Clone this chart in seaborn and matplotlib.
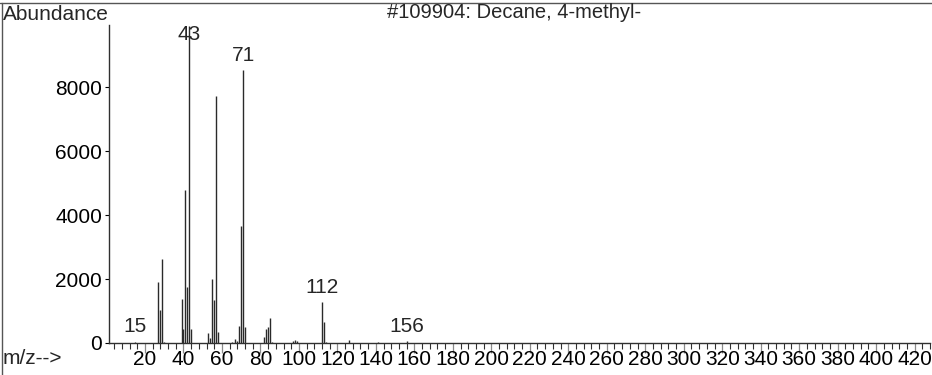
import matplotlib
matplotlib.use("Agg")
import matplotlib.pyplot as plt
from matplotlib.lines import Line2D
from matplotlib.ticker import MultipleLocator
import seaborn as sns
import pandas as pd

# ---- data ----
mz = [15, 27, 28, 29, 30, 39, 40, 41, 42, 43, 44,
      53, 54, 55, 56, 57, 58, 65, 67, 68, 69, 70, 71, 72,
      82, 83, 84, 85, 86, 97, 98, 99, 112, 113, 114, 126, 141, 156]
abundance = [40, 1910, 1030, 2620, 40, 1380, 440, 4780, 1760, 9900, 440,
             310, 150, 2000, 1340, 7720, 350, 40, 125, 70, 530, 3670, 8530, 490,
             190, 450, 510, 780, 40, 60, 80, 70, 1270, 645, 40, 90, 20, 60]
labelled_peaks = [15, 43, 71, 112, 156]
title = "#109904: Decane, 4-methyl-"
y_ticks = [0, 2000, 4000, 6000, 8000]
x_ticks = list(range(20, 421, 20))

df = pd.DataFrame({"mz": mz, "abundance": abundance})

sns.set_theme(style="ticks")
plt.rcParams["font.family"] = ["Liberation Sans", "DejaVu Sans"]

W, H = 932, 375
fig = plt.figure(figsize=(W / 100, H / 100), dpi=100)
ax = fig.add_axes([109 / W, 1 - 343 / H, (930 - 109) / W, (343 - 25) / H])

ax.vlines(df["mz"], 0, df["abundance"], colors="#2a2a2a", linewidth=1.0)

ax.set_xlim(1.3, 428)
ax.set_ylim(0, 9940)
sns.despine(ax=ax)
for s in ("left", "bottom"):
    ax.spines[s].set_color("#303030")
    ax.spines[s].set_linewidth(1.0)

ax.set_yticks(y_ticks)
ax.set_yticklabels([str(v) for v in y_ticks])
ax.set_xticks(x_ticks)
ax.set_xticklabels([str(v) for v in x_ticks])
ax.xaxis.set_minor_locator(MultipleLocator(4))
ax.tick_params(axis="y", which="major", length=3, width=0.8, pad=2,
               labelsize=15, colors="#000000")
ax.tick_params(axis="x", which="major", length=7, width=0.9, pad=-2,
               labelsize=15, color="#8a8a8a", labelcolor="#000000")
ax.tick_params(axis="x", which="minor", length=4, width=0.8, color="#303030")
ax.tick_params(axis="y", which="minor", left=False)

top = ax.get_ylim()[1]
for p in labelled_peaks:
    h = df.loc[df["mz"] == p, "abundance"].iloc[0]
    if h > top * 0.92:
        ax.annotate(str(p), xy=(p, top), xytext=(0, 0), textcoords="offset points",
                    ha="center", va="top", fontsize=15)
    else:
        ax.annotate(str(p), xy=(p, h), xytext=(0, 4), textcoords="offset points",
                    ha="center", va="bottom", fontsize=15)

fig.text(3 / W, 1 - 14 / H, "Abundance", ha="left", va="center", fontsize=15)
fig.text(3 / W, 1 - 358 / H, "m/z-->", ha="left", va="center", fontsize=15)
fig.text(387 / W, 1 - 13 / H, title, ha="left", va="center", fontsize=14.5)

# outer frame (top and left edges)
fig.add_artist(Line2D([0, 1], [1 - 3 / H, 1 - 3 / H], transform=fig.transFigure,
                      color="#555555", linewidth=1.0))
fig.add_artist(Line2D([2 / W, 2 / W], [0, 1 - 3 / H], transform=fig.transFigure,
                      color="#555555", linewidth=1.0))

fig.savefig("out.png", dpi=100, facecolor="white")
